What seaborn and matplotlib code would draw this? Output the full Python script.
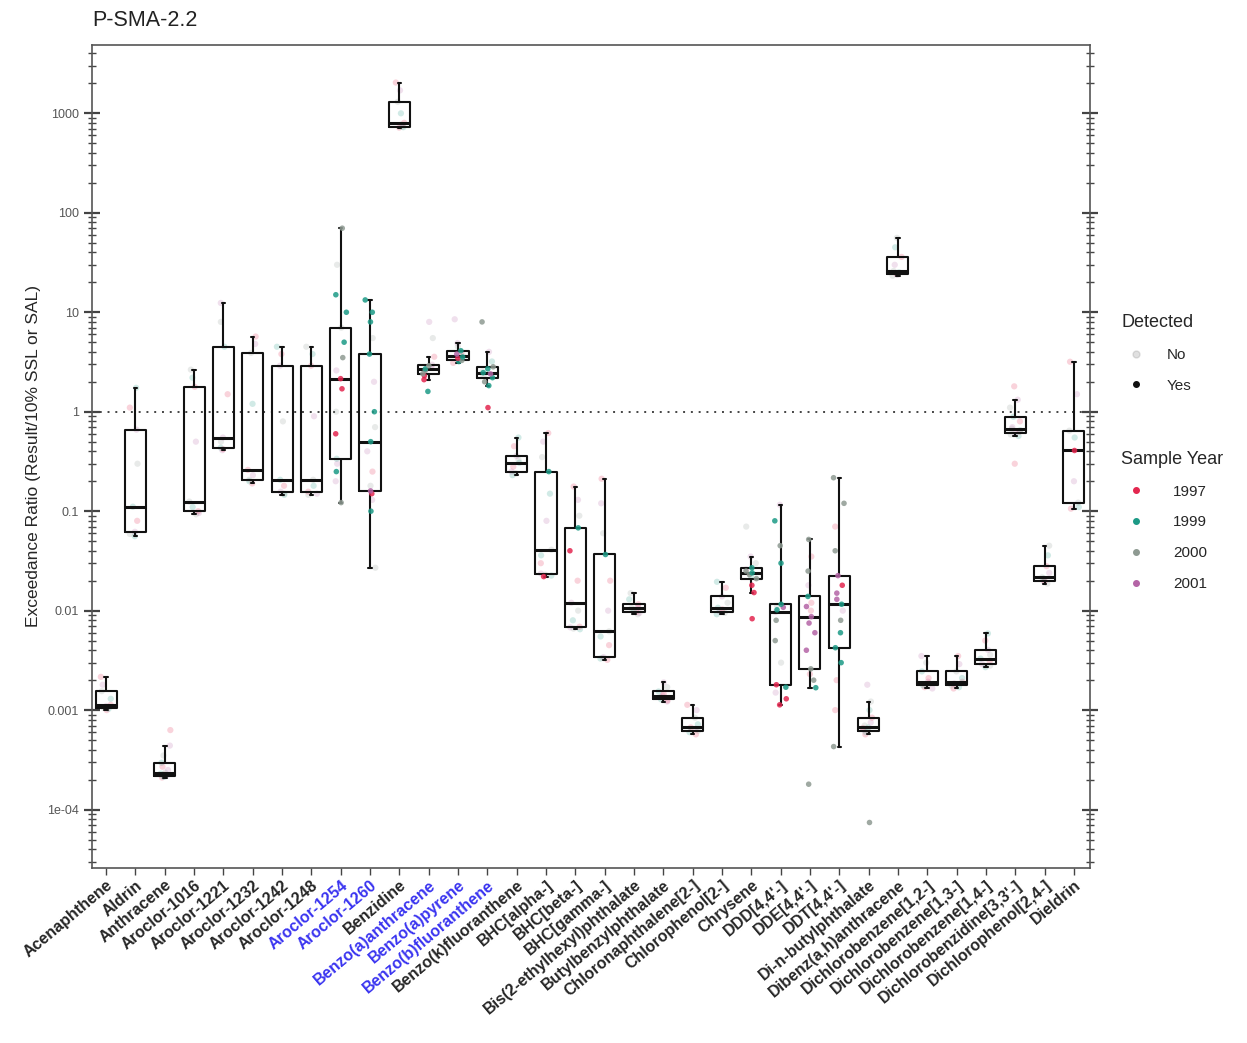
import matplotlib
matplotlib.use("Agg")

import numpy as np
import pandas as pd
import matplotlib.pyplot as plt
import seaborn as sns
from matplotlib.lines import Line2D
from matplotlib.ticker import LogLocator, NullFormatter

# ===============================
# data
# ===============================
analytes = [
    "Acenaphthene", "Aldrin", "Anthracene", "Aroclor-1016", "Aroclor-1221",
    "Aroclor-1232", "Aroclor-1242", "Aroclor-1248", "Aroclor-1254", "Aroclor-1260",
    "Benzidine", "Benzo(a)anthracene", "Benzo(a)pyrene", "Benzo(b)fluoranthene",
    "Benzo(k)fluoranthene", "BHC[alpha-]", "BHC[beta-]", "BHC[gamma-]",
    "Bis(2-ethylhexyl)phthalate", "Butylbenzylphthalate", "Chloronaphthalene[2-]",
    "Chlorophenol[2-]", "Chrysene", "DDD[4,4'-]", "DDE[4,4'-]", "DDT[4,4'-]",
    "Di-n-butylphthalate", "Dibenz(a,h)anthracene", "Dichlorobenzene[1,2-]",
    "Dichlorobenzene[1,3-]", "Dichlorobenzene[1,4-]", "Dichlorobenzidine[3,3'-]",
    "Dichlorophenol[2,4-]", "Dieldrin",
]
highlight = ["Aroclor-1254", "Aroclor-1260", "Benzo(a)anthracene",
             "Benzo(a)pyrene", "Benzo(b)fluoranthene"]

# exceedance ratios per analyte
ratios = [
    [0.001, 0.00103, 0.00105, 0.0011, 0.00113, 0.0013, 0.00155, 0.0018, 0.00216],
    [0.056, 0.059, 0.062, 0.08, 0.111, 0.3, 0.66, 1.1, 1.74],
    [0.00021, 0.000213, 0.000217, 0.00022, 0.000225, 0.00023, 0.000235, 0.00025,
     0.00027, 0.000296, 0.00035, 0.00044, 0.00063],
    [0.093, 0.096, 0.1, 0.11, 0.125, 0.5, 1.78, 2.2, 2.65],
    [0.41, 0.42, 0.435, 0.5, 0.55, 1.5, 4.5, 8.0, 12.4],
    [0.19, 0.2, 0.207, 0.23, 0.26, 1.2, 3.9, 4.8, 5.7],
    [0.146, 0.15, 0.157, 0.18, 0.207, 0.8, 2.9, 3.8, 4.5],
    [0.146, 0.15, 0.157, 0.18, 0.207, 0.9, 2.9, 3.8, 4.5],
    [0.122, 0.2, 0.25, 0.3, 0.337, 0.6, 1.0, 1.7, 2.15, 2.6, 3.5, 5.0, 7.0,
     10, 15, 30, 70],
    [0.027, 0.1, 0.13, 0.15, 0.16, 0.18, 0.25, 0.4, 0.5, 0.7, 1.0, 2.0, 3.8,
     5.5, 8.0, 10, 13.3],
    [718, 725, 731, 770, 803, 1000, 1306, 1700, 2040],
    [1.6, 2.1, 2.3, 2.41, 2.5, 2.6, 2.7, 2.8, 2.9, 2.97, 3.57, 5.5, 8.0],
    [3.1, 3.2, 3.28, 3.33, 3.45, 3.55, 3.65, 3.8, 3.95, 4.1, 4.5, 4.9, 8.5],
    [1.1, 1.83, 2.0, 2.2, 2.3, 2.4, 2.47, 2.55, 2.7, 2.83, 3.2, 4.0, 8.0],
    [0.23, 0.24, 0.25, 0.28, 0.307, 0.33, 0.36, 0.45, 0.55],
    [0.022, 0.0225, 0.023, 0.0236, 0.03, 0.036, 0.041, 0.08, 0.15, 0.25,
     0.35, 0.5, 0.61],
    [0.0065, 0.0066, 0.0068, 0.0069, 0.008, 0.01, 0.012, 0.02, 0.04, 0.068,
     0.09, 0.13, 0.177],
    [0.0032, 0.0033, 0.00335, 0.0034, 0.0045, 0.0055, 0.0062, 0.01, 0.02,
     0.037, 0.06, 0.12, 0.212],
    [0.0092, 0.0095, 0.0097, 0.0102, 0.0106, 0.011, 0.0116, 0.013, 0.015],
    [0.00122, 0.00125, 0.00128, 0.00135, 0.0014, 0.00145, 0.00154, 0.0017, 0.0019],
    [0.00057, 0.0006, 0.00062, 0.00065, 0.00067, 0.00072, 0.00084, 0.001, 0.00113],
    [0.0092, 0.0095, 0.0098, 0.0103, 0.0107, 0.012, 0.0139, 0.017, 0.0195],
    [0.0083, 0.0152, 0.018, 0.021, 0.022, 0.023, 0.024, 0.025, 0.026, 0.027,
     0.03, 0.035, 0.07],
    [0.00113, 0.0013, 0.0015, 0.0017, 0.0018, 0.003, 0.005, 0.008, 0.0097,
     0.0102, 0.0108, 0.0112, 0.0116, 0.03, 0.045, 0.08, 0.116],
    [0.00018, 0.00168, 0.002, 0.0023, 0.0026, 0.004, 0.006, 0.0075, 0.0087,
     0.01, 0.011, 0.012, 0.0139, 0.018, 0.025, 0.035, 0.052],
    [0.00043, 0.001, 0.002, 0.003, 0.00424, 0.006, 0.008, 0.01, 0.0116,
     0.013, 0.015, 0.018, 0.0225, 0.04, 0.07, 0.12, 0.217],
    [0.000075, 0.00057, 0.0006, 0.00062, 0.00064, 0.00066, 0.00067, 0.0007,
     0.00075, 0.00084, 0.001, 0.00122, 0.0018],
    [23.3, 23.8, 24.4, 25.2, 26, 30, 36, 45, 56],
    [0.00165, 0.0017, 0.00177, 0.00185, 0.00193, 0.0021, 0.00245, 0.003, 0.0035],
    [0.00165, 0.0017, 0.00177, 0.00185, 0.00193, 0.0021, 0.00245, 0.0029, 0.0035],
    [0.0027, 0.0028, 0.0029, 0.0031, 0.0033, 0.0036, 0.00403, 0.005, 0.0059],
    [0.3, 0.57, 0.59, 0.615, 0.63, 0.65, 0.675, 0.7, 0.8, 0.89, 1.1, 1.32, 1.8],
    [0.0187, 0.0195, 0.02, 0.021, 0.0216, 0.024, 0.028, 0.036, 0.045],
    [0.106, 0.11, 0.122, 0.2, 0.415, 0.55, 0.645, 1.5, 3.18],
]

# detected flag per value (1 = yes)
detected = [
    "000000000", "000000000", "0000000000000", "000000000", "000000000",
    "000000000", "000000000", "000000000", "10100101101101101",
    "01011000101010111", "000000000", "1111011010000", "0110110101000",
    "1111011011001", "000000000", "1000000001000", "0000000011000",
    "0000000001000", "000000000", "000000000", "000000000", "000000000",
    "1111011101000", "11011011011011110", "11101111101010101",
    "10011110111111011", "1000000000000", "000000000", "000000000",
    "000000000", "000000000", "0000000000000", "000000000", "000010000",
]

# sample year per value: 7=1997, 9=1999, 0=2000, 1=2001
year_codes = [
    "790179017", "901790179", "7901790179017", "017901790", "179017901",
    "790179017", "901790179", "017901790", "01919707710909900",
    "09171071909190999", "790179017", "9770109101701", "7901790179011",
    "7909019090910", "901790179", "7901790199017", "9017901779017",
    "7901790179017", "017901790", "179017901", "790179017", "901790179",
    "7770909019010", "77197000191099091", "09070111171791070",
    "07799901911710700", "0790179017901", "017901790", "179017901",
    "790179017", "901790179", "7901790179017", "017901790", "790179017",
]
year_lookup = {"7": 1997, "9": 1999, "0": 2000, "1": 2001}
years = [1997, 1999, 2000, 2001]
year_colors = {1997: "#e3264f", 1999: "#1c9a86", 2000: "#8e9a92", 2001: "#b464a6"}

ytick_vals = [1e-4, 1e-3, 1e-2, 1e-1, 1, 10, 100, 1000]
ytick_labels = ["1e-04", "0.001", "0.01", "0.1", "1", "10", "100", "1000"]

rows = []
for name, vals, det, yc in zip(analytes, ratios, detected, year_codes):
    for v, d, y in zip(vals, det, yc):
        rows.append({"analyte": name, "ratio": v, "detected": int(d),
                     "year": year_lookup[y]})
df = pd.DataFrame(rows)

# ===============================
# plot
# ===============================
sns.set_style("white")
plt.rcParams["font.family"] = ["Liberation Sans", "DejaVu Sans"]
np.random.seed(3)

fig = plt.figure(figsize=(12.47, 10.43), dpi=100)
ax = fig.add_axes([0.0738, 0.168, 0.8003, 0.789])

sns.boxplot(
    data=df, x="analyte", y="ratio", order=analytes, log_scale=True,
    fill=False, color="#111111", width=0.72, linewidth=1.5,
    showfliers=False, whis=1.5, capwidths=0.12,
    medianprops={"linewidth": 2.2}, ax=ax,
)

nd = df[df["detected"] == 0]
det_df = df[df["detected"] == 1]
sns.stripplot(
    data=nd, x="analyte", y="ratio", order=analytes, hue="year",
    hue_order=years, palette=year_colors, log_scale=True, jitter=0.2,
    size=4.5, alpha=0.2, legend=False, ax=ax, zorder=1,
)
sns.stripplot(
    data=det_df, x="analyte", y="ratio", order=analytes, hue="year",
    hue_order=years, palette=year_colors, log_scale=True, jitter=0.2,
    size=4, alpha=0.85, legend=False, ax=ax, zorder=3,
)

ax.axhline(1, color="#444444", linestyle=(0, (1, 3)), linewidth=1.4, zorder=0)

ax.set_xlim(-0.48, 33.55)
ax.set_ylim(2.6e-5, 4880)

ax.set_yticks(ytick_vals)
ax.set_yticklabels(ytick_labels, fontsize=9, color="#555555")
ax.yaxis.set_minor_locator(LogLocator(base=10, subs=np.arange(2, 10)))
ax.yaxis.set_minor_formatter(NullFormatter())
ax.tick_params(axis="y", which="major", direction="inout", length=12,
               width=1.6, left=True, right=True, color="#444444")
ax.tick_params(axis="y", which="minor", direction="inout", length=6,
               width=1.0, left=True, right=True, color="#444444")
ax.tick_params(axis="x", which="major", direction="out", length=5,
               width=1.0, bottom=True, color="#444444", pad=2)

ax.set_xticks(range(len(analytes)))
ax.set_xticklabels(analytes, rotation=40, ha="right", rotation_mode="anchor",
                   fontsize=11.5, fontweight="bold")
for lab in ax.get_xticklabels():
    if lab.get_text() in highlight:
        lab.set_color("#3a34f0")

for s in ax.spines.values():
    s.set_color("#555555")
    s.set_linewidth(1.2)

ax.set_xlabel("")
ax.set_ylabel("Exceedance Ratio (Result/10% SSL or SAL)", fontsize=12.5)

fig.text(92 / 1247, 1 - 20 / 1043, "P-SMA-2.2", fontsize=15.5, va="center",
         color="#222222")

# ===============================
# legends
# ===============================
det_handles = [
    Line2D([], [], marker="o", linestyle="", color="#999999", alpha=0.3, markersize=5),
    Line2D([], [], marker="o", linestyle="", color="#111111", markersize=4),
]
leg1 = fig.legend(det_handles, ["No", "Yes"], title="Detected",
                  loc="upper left", bbox_to_anchor=(0.888, 0.712),
                  frameon=False, fontsize=11, title_fontsize=13,
                  alignment="left", handletextpad=1.0, labelspacing=1.1)
year_handles = [
    Line2D([], [], marker="o", linestyle="", color=year_colors[y], markersize=4)
    for y in years
]
leg2 = fig.legend(year_handles, [str(y) for y in years], title="Sample Year",
                  loc="upper left", bbox_to_anchor=(0.888, 0.581),
                  frameon=False, fontsize=11, title_fontsize=13,
                  alignment="left", handletextpad=1.4, labelspacing=1.1)

plt.savefig("out.png", dpi=100)
plt.close()
